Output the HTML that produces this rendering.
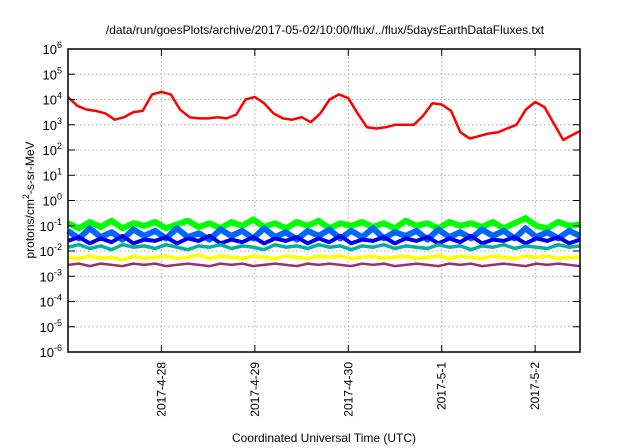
<!DOCTYPE html>
<html><head><meta charset="utf-8"><style>
body{margin:0;background:#fff}
svg{display:block;font-family:"Liberation Sans",sans-serif}
</style></head><body>
<svg id="chart" width="640" height="448" viewBox="0 0 640 448">
<text x="325" y="34" font-size="12" text-anchor="middle">/data/run/goesPlots/archive/2017-05-02/10:00/flux/../flux/5daysEarthDataFluxes.txt</text>
<g id="grid"></g>
<g id="series"></g>
<rect x="68" y="49" width="512" height="303" fill="none" stroke="#000" stroke-width="1.5"/>
<g id="axes"></g>
<text transform="translate(34,200) rotate(-90)" font-size="12" text-anchor="middle">protons/cm<tspan dy="-5" font-size="9">2</tspan><tspan dy="5">-s-sr-MeV</tspan></text>
<text x="324" y="442" font-size="12" text-anchor="middle">Coordinated Universal Time (UTC)</text>
</svg>
<script>
const yExps=[-6,-5,-4,-3,-2,-1,0,1,2,3,4,5,6];
const xTickDays=[1,2,3,4,5];
const xTickLabels=["2017-4-28","2017-4-29","2017-4-30","2017-5-1","2017-5-2"];
const redDays=[0,0.1,0.2,0.3,0.4,0.5,0.6,0.7,0.8,0.9,1.0,1.1,1.2,1.3,1.4,1.5,1.6,1.7,1.8,1.9,2.0,2.1,2.2,2.3,2.4,2.5,2.6,2.7,2.8,2.9,3.0,3.1,3.2,3.3,3.4,3.5,3.6,3.7,3.8,3.9,4.0,4.1,4.2,4.3,4.4,4.5,4.6,4.7,4.8,4.9,5.0,5.1,5.2,5.3,5.4,5.48];
const redLog=[4.1,3.75,3.6,3.55,3.45,3.2,3.3,3.5,3.55,4.2,4.3,4.2,3.6,3.3,3.25,3.25,3.3,3.25,3.4,4.0,4.1,3.85,3.45,3.25,3.2,3.3,3.1,3.45,4.0,4.2,4.05,3.45,2.9,2.85,2.9,3.0,3.0,3.0,3.35,3.85,3.8,3.55,2.7,2.45,2.55,2.65,2.7,2.85,3.0,3.6,3.9,3.7,3.05,2.4,2.6,2.75];
const greenLog=[-0.9,-1.1,-0.85,-1.05,-0.8,-1.1,-0.9,-1.0,-0.85,-1.1,-0.95,-0.8,-1.05,-0.9,-1.1,-0.85,-1.0,-0.75,-1.05,-0.9,-1.1,-0.85,-1.0,-0.8,-1.1,-0.9,-1.0,-0.85,-1.05,-0.9,-1.1,-0.8,-1.0,-0.9,-1.1,-0.85,-1.0,-0.9,-1.05,-0.85,-1.1,-0.9,-0.7,-1.0,-1.1,-0.85,-1.0,-0.95];
const blueLog=[-1.2,-1.5,-1.1,-1.45,-1.25,-1.55,-1.15,-1.4,-1.2,-1.5,-1.1,-1.45,-1.3,-1.55,-1.15,-1.4,-1.2,-1.5,-1.1,-1.45,-1.25,-1.55,-1.2,-1.4,-1.15,-1.5,-1.2,-1.45,-1.1,-1.5,-1.25,-1.4,-1.2,-1.55,-1.15,-1.45,-1.25,-1.5,-1.15,-1.4,-1.2,-1.5,-1.1,-1.45,-1.25,-1.5,-1.2,-1.4];
const darkBlueLog=[-1.6,-1.45,-1.7,-1.5,-1.65,-1.4,-1.7,-1.55,-1.6,-1.45,-1.7,-1.5,-1.6,-1.4,-1.7,-1.55,-1.65,-1.45,-1.7,-1.5,-1.6,-1.45,-1.7,-1.5,-1.65,-1.4,-1.7,-1.55,-1.6,-1.45,-1.7,-1.5,-1.6,-1.45,-1.7,-1.5,-1.65,-1.4,-1.7,-1.55,-1.6,-1.45,-1.7,-1.5,-1.6,-1.45,-1.7,-1.55];
const tealLog=[-1.85,-1.75,-1.9,-1.8,-1.95,-1.75,-1.85,-1.8,-1.9,-1.75,-1.85,-1.95,-1.8,-1.85,-1.75,-1.9,-1.8,-1.85,-1.95,-1.75,-1.85,-1.8,-1.9,-1.75,-1.85,-1.8,-1.95,-1.8,-1.85,-1.75,-1.9,-1.8,-1.85,-1.9,-1.75,-1.85,-1.8,-1.95,-1.8,-1.85,-1.75,-1.9,-1.8,-1.85,-1.9,-1.75,-1.85,-1.8];
const yellowLog=[-2.25,-2.3,-2.2,-2.3,-2.25,-2.35,-2.2,-2.3,-2.25,-2.2,-2.3,-2.25,-2.15,-2.3,-2.2,-2.25,-2.3,-2.2,-2.25,-2.3,-2.2,-2.25,-2.3,-2.2,-2.25,-2.2,-2.3,-2.25,-2.2,-2.3,-2.25,-2.2,-2.3,-2.25,-2.2,-2.3,-2.2,-2.25,-2.3,-2.2,-2.25,-2.3,-2.2,-2.25,-2.2,-2.3,-2.25,-2.25];
const purpleLog=[-2.55,-2.5,-2.6,-2.5,-2.55,-2.6,-2.5,-2.55,-2.5,-2.6,-2.55,-2.5,-2.55,-2.6,-2.5,-2.55,-2.5,-2.6,-2.55,-2.5,-2.55,-2.6,-2.5,-2.55,-2.5,-2.55,-2.6,-2.5,-2.55,-2.5,-2.6,-2.55,-2.5,-2.55,-2.6,-2.5,-2.55,-2.5,-2.6,-2.55,-2.5,-2.55,-2.6,-2.5,-2.55,-2.5,-2.55,-2.6];
const NS="http://www.w3.org/2000/svg";
const X0=68,X1=580,Y0=352,Y1=49,dMax=5.48;
const xs=d=>X0+(X1-X0)*d/dMax;
const ys=l=>Y0-(Y0-Y1)*(l+6)/12;
function mk(tag,attrs,parent){const e=document.createElementNS(NS,tag);for(const k in attrs)e.setAttribute(k,attrs[k]);parent.appendChild(e);return e;}
const grid=document.getElementById('grid'),axes=document.getElementById('axes'),ser=document.getElementById('series');
yExps.forEach(e=>{const y=ys(e);
 if(e>-6&&e<6){const g=mk('line',{x1:X0,x2:X1,y1:y,y2:y,stroke:'#aaa','stroke-dasharray':'1.5,2.5'},grid);
 
 }
 const t1=mk('line',{x1:X0,x2:X0+7,y1:y,y2:y,stroke:'#000'},axes);
 
 
 const t2=mk('line',{x1:X1-7,x2:X1,y1:y,y2:y,stroke:'#000'},axes);
 
 
 const tx=mk('text',{x:62,y:y+5,'font-size':'13','text-anchor':'end'},axes);
 
 
 tx.innerHTML='10<tspan dy="-6" font-size="9">'+e+'</tspan>';
});
xTickDays.forEach((d,i)=>{const x=xs(d);
 const g=mk('line',{x1:x,x2:x,y1:Y1,y2:Y0,stroke:'#aaa','stroke-dasharray':'1.5,2.5'},grid);
 
 
 const t1=mk('line',{x1:x,x2:x,y1:Y0,y2:Y0-7,stroke:'#000'},axes);
 
 
 const t2=mk('line',{x1:x,x2:x,y1:Y1,y2:Y1+7,stroke:'#000'},axes);
 
 
 const tx=mk('text',{transform:`translate(${x+4},362) rotate(-90)`,'font-size':'12','text-anchor':'end'},axes);
 
 
 tx.textContent=xTickLabels[i];
});
function band(arr,color,name,w){
 const pts=arr.map((v,i)=>xs(dMax*i/(arr.length-1)).toFixed(1)+','+ys(v).toFixed(1)).join(' ');
 const p=mk('polyline',{points:pts,fill:'none',stroke:color,'stroke-width':w,'stroke-linejoin':'round'},ser);
 
 
}
band(greenLog,'#00ff00','series-green',6);
band(blueLog,'#0066ff','series-blue',6);
band(darkBlueLog,'#0000ee','series-dark-blue',4);
band(tealLog,'#00b0a0','series-teal',3.5);
band(yellowLog,'#ffff00','series-yellow',3.5);
band(purpleLog,'#993366','series-purple',2.5);
const rp=redDays.map((d,i)=>xs(d).toFixed(1)+','+ys(redLog[i]).toFixed(1)).join(' ');
const red=mk('polyline',{points:rp,fill:'none',stroke:'#ff0000','stroke-width':2.5,'stroke-linejoin':'round'},ser);


</script>
</body></html>
